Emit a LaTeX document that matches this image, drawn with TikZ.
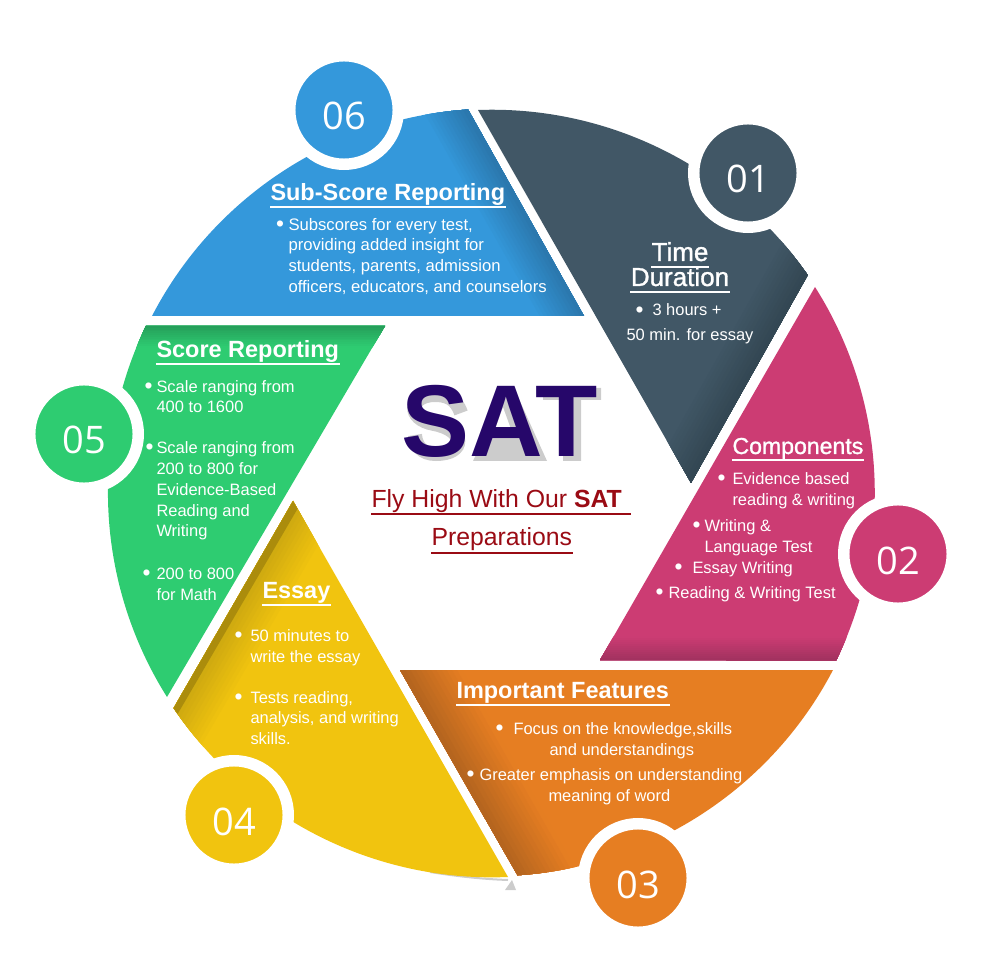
\documentclass[tikz,border=0pt]{standalone}
\usepackage{fontspec}
\setmainfont{Liberation Sans}
\newfontfamily\numfont{Open Sans}
\newfontfamily\fakefont[FakeBold=1.2]{Liberation Sans}
\definecolor{segblue}{HTML}{3498DB}
\definecolor{segbluedk}{HTML}{2B78AE}
\definecolor{segslate}{HTML}{415766}
\definecolor{segslatedk}{HTML}{334753}
\definecolor{segpink}{HTML}{CC3C73}
\definecolor{segpinkdk}{HTML}{A33260}
\definecolor{segorange}{HTML}{E67E22}
\definecolor{segorangedk}{HTML}{B5651F}
\definecolor{segyellow}{HTML}{F1C40F}
\definecolor{segyellowmd}{HTML}{C9A510}
\definecolor{segyellowdk}{HTML}{AB8C0C}
\definecolor{seggreen}{HTML}{2ECC71}
\definecolor{seggreendk}{HTML}{259F5A}
\definecolor{satblue}{HTML}{26076A}
\definecolor{satred}{HTML}{9A0B14}
\newcommand{\bul}[1]{\llap{\raisebox{-0.8pt}{\fontsize{17}{17}\selectfont•}\hspace{#1pt}}}
% darker colour along one edge of a segment: dark, base, angle, edge point x, y, strip width
\newcommand{\edgestrips}[6]{\foreach \i in {11,10,...,0} {\pgfmathtruncatemacro\pct{100-9*\i}
  \fill[#1!\pct!#2,rotate around={#3:(#4,#5)}] (#4-60,#5-10) rectangle (#4+400,{#5+#6*(\i+1)});}}
\tikzset{every picture/.style={line width=0.75pt},
  numcirc/.style={circle,draw=white,line width=8.6pt,minimum size=81.4pt,inner sep=0pt,outer sep=0pt,text=white,font=\numfont\fontsize{28.5}{30}\selectfont,text height=31pt,text depth=1pt},
  segtitle/.style={anchor=base west,inner sep=0pt,text=white,text depth=4.5pt,font=\bfseries\fontsize{17.6}{20}\selectfont},
  segtext/.style={anchor=base west,inner sep=0pt,text=white,align=left,font=\fontsize{12.35}{15.6}\selectfont},
  titleline/.style={white,line width=1.5pt},
  redtext/.style={anchor=base west,inner sep=0pt,text=satred,text depth=4.5pt,font=\fontsize{18.6}{20}\selectfont},
  redline/.style={satred,line width=1.5pt},
  satshadow/.style={fill=black,opacity=0.2}}

\begin{document}
\begin{tikzpicture}[x=0.75pt,y=0.75pt,yscale=-1,xscale=1]
\useasboundingbox (0,0) rectangle (1000,955);
% blue
\fill[segblue,path picture={\edgestrips{segbluedk}{segblue}{60.4}{467}{110}{3.5}}] (152,316) arc [start angle=207.4,end angle=266.3,radius=384] -- (584,316) -- cycle;
% slate
\fill[segslate,path picture={\edgestrips{segslatedk}{segslate}{119.4}{810}{272}{3.5}}] (478,110) arc [start angle=267.9,end angle=325.3,radius=384] -- (691,483) -- cycle;
% pink
\fill[segpink,path picture={\edgestrips{segpinkdk}{segpink}{180}{838}{660}{2}}] (815,287) arc [start angle=327.6,end angle=385.9,radius=384] -- (600,660) -- cycle;
% orange
\fill[segorange,path picture={\edgestrips{segorangedk}{segorange}{240.3}{517}{875}{4.5}}] (833,670) arc [start angle=27.6,end angle=86.3,radius=384] -- (400,670) -- cycle;
% yellow
\draw[gray!40,line width=1.5pt] (430,872) .. controls (455,876) and (480,879) .. (508,880);
\fill[gray!40] (505,890) -- (512,880) -- (516,890) -- cycle;
\fill[segyellow,path picture={\edgestrips{segyellowmd}{segyellow}{300.3}{173}{706}{4}
\fill[segyellowdk,rotate around={300.3:(173,706)}] (150,690) rectangle (430,714);}] (508,877) arc [start angle=87.6,end angle=146,radius=384] -- (293,501) -- cycle;
% green
\fill[seggreen,path picture={\edgestrips{seggreendk}{seggreen}{0}{147}{326}{1.8}}] (167,697) arc [start angle=147.8,end angle=205.7,radius=384] -- (385,326) -- cycle;

% shadow of the big letters
\begin{scope}[shift={(4,4)}]
\draw[black,opacity=0.2,line width=10.5pt] (457,409) .. controls (452,394) and (442,391) .. (431,391) .. controls (405,391) and (402,415) .. (430,420) .. controls (462,426) and (462,450) .. (432,450) .. controls (418,450) and (412,442) .. (411,431);
\fill[satshadow,even odd rule] (469,457) -- (505,384) -- (510,384) -- (543,457) -- cycle (491,425) -- (507,425) -- (499,403) -- cycle;
\fill[satshadow] (539,384) -- (597,384) -- (597,396) -- (577,396) -- (577,457) -- (559,457) -- (559,396) -- (539,396) -- cycle;
\end{scope}

\node[numcirc,fill=segslate] (num01) at (748,173) {01};
\node[numcirc,fill=segpink] (num02) at (898,554) {02};
\node[numcirc,fill=segorange] (num03) at (638,878) {03};
\node[numcirc,fill=segyellow] (num04) at (234,815) {04};
\node[numcirc,fill=seggreen] (num05) at (84,434) {05};
\node[numcirc,fill=segblue] (num06) at (344,110) {06};

\node[segtitle] (subscore) at (270,201) {Sub-Score Reporting};
\draw[titleline] (subscore.south west) -- (subscore.south east);
\node[segtext,font=\fontsize{12.5}{15.6}\selectfont] (subtext) at (288,292.5) {\bul{3.4}Subscores for every test,\\providing added insight for\\students, parents, admission\\officers, educators, and counselors};

\node[segtitle,anchor=base,font=\fakefont\fontsize{19.5}{20}\selectfont] (timetitle) at (680,261) {Time};
\draw[titleline] (timetitle.south west) -- (timetitle.south east);
\node[segtitle,anchor=base,font=\fakefont\fontsize{19.5}{20}\selectfont] (durtitle) at (680,286) {Duration};
\draw[titleline] (durtitle.south west) -- (durtitle.south east);
\node[segtext] (hours) at (652,316) {\bul{6.75}3 hours +};
\node[segtext] (essaymin) at (626,341) {50 min. for essay};

\node[segtitle,font=\fakefont\fontsize{17.3}{20}\selectfont] (comptitle) at (732,454) {Components};
\draw[titleline] (comptitle.south west) -- (comptitle.south east);
\node[segtext] (evidence) at (732,505) {\bul{5.25}Evidence based\\reading \& writing};
\node[segtext] (language) at (704,552) {\bul{3}Writing \&\\Language Test};
\node[segtext] (essaywrite) at (692,573) {\bul{7.5}Essay Writing};
\node[segtext] (readwrite) at (668,598) {\bul{3.75}Reading \& Writing Test};

\node[segtitle] (imptitle) at (456,698) {Important Features};
\draw[titleline] (imptitle.south west) -- (imptitle.south east);
\node[segtext] (focus) at (513,734) {\bul{7.5}Focus on the knowledge,skills};
\node[segtext] (understand) at (549,755) {and understandings};
\node[segtext] (greater) at (479,780) {\bul{3.75}Greater emphasis on understanding};
\node[segtext] (meaning) at (548,801) {meaning of word};

\node[segtitle] (essaytitle) at (262,598) {Essay};
\draw[titleline] (essaytitle.south west) -- (essaytitle.south east);
\node[segtext] (fifty) at (250,662) {\bul{6}50 minutes to\\write the essay};
\node[segtext] (tests) at (250,744.6) {\bul{6}Tests reading,\\analysis, and writing\\skills.};

\node[segtitle] (scoretitle) at (156,358) {Score Reporting};
\draw[titleline] (scoretitle.south west) -- (scoretitle.south east);
\node[segtext] (scale) at (156,413) {\bul{3}Scale ranging from\\400 to 1600};
\node[segtext] (scaletwo) at (156,537) {\bul{2.25}Scale ranging from\\200 to 800 for\\Evidence-Based\\Reading and\\Writing};
\node[segtext] (math) at (156,600) {\bul{4.5}200 to 800\\for Math};

\node[anchor=base,inner sep=0pt,text=satblue,font=\bfseries\fontsize{76.5}{80}\selectfont] (sat) at (500,457) {SAT};
\node[redtext] (flyhigh) at (371,508) {Fly High With Our {\bfseries SAT}\kern6.5pt\relax};
\draw[redline] (flyhigh.south west) -- (flyhigh.south east);
\node[redtext] (prep) at (431,546) {Preparations};
\draw[redline] (prep.south west) -- (prep.south east);
\end{tikzpicture}
\end{document}
